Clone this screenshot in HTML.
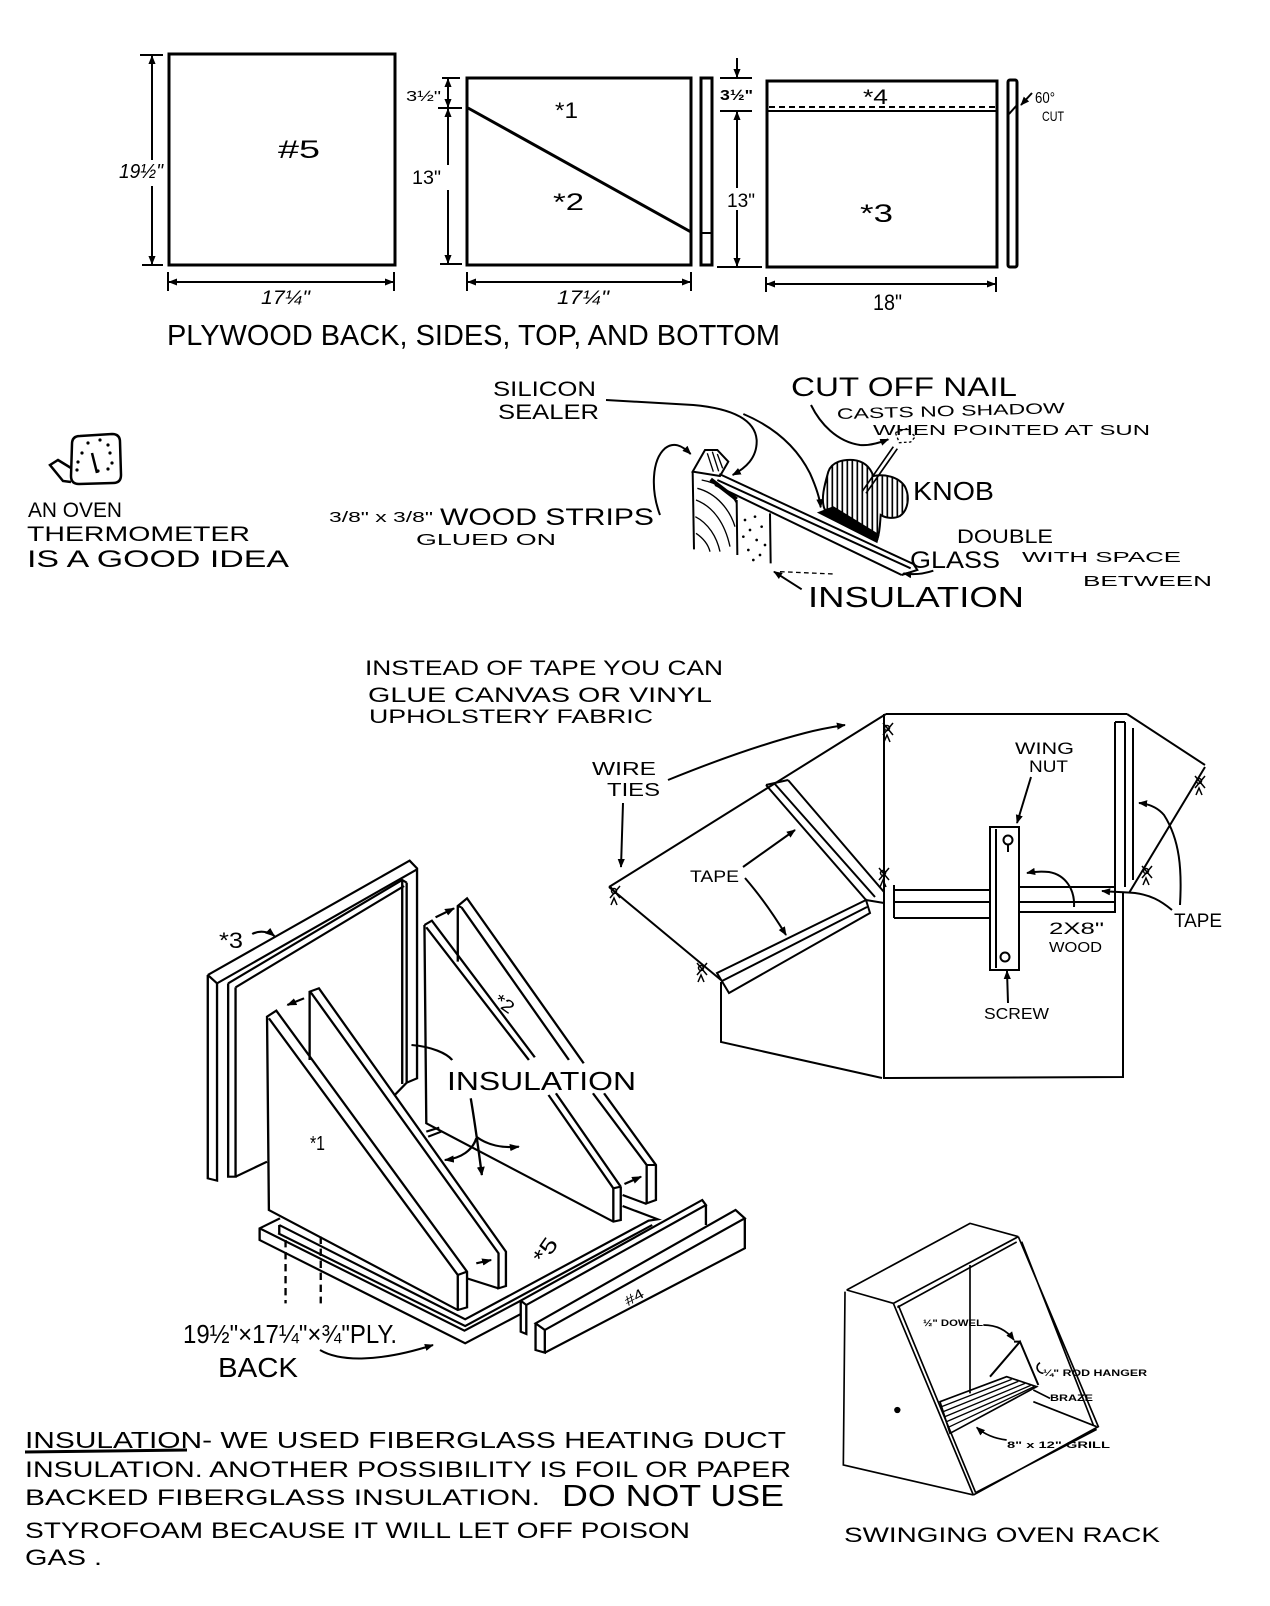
<!DOCTYPE html>
<html><head><meta charset="utf-8"><style>
html,body{margin:0;padding:0;background:#fff;}
svg{display:block}
text{font-family:"Liberation Sans",sans-serif;fill:#000}
</style></head><body>
<svg width="1270" height="1606" viewBox="0 0 1270 1606" xmlns="http://www.w3.org/2000/svg">
<defs>
<marker id="a" viewBox="0 0 10 10" refX="9" refY="5" markerWidth="9" markerHeight="9" markerUnits="userSpaceOnUse" orient="auto-start-reverse"><path d="M0,1L10,5L0,9Z" fill="#000"/></marker>
<marker id="b" viewBox="0 0 10 10" refX="9" refY="5" markerWidth="27" markerHeight="27" markerUnits="userSpaceOnUse" orient="auto-start-reverse"><path d="M0,1L10,5L0,9Z" fill="#000"/></marker>
<pattern id="h" patternUnits="userSpaceOnUse" width="15" height="15"><line x1="7" y1="0" x2="7" y2="15" stroke="#000" stroke-width="5"/></pattern>
<g id="t" fill="none" stroke="#000" stroke-width="1.5"><path d="M-5,-7L5,5M5,-7L-5,5M-4,12L-1,5L2,12"/><circle cx="-1" cy="-2" r="2.5"/></g>
</defs>

<!-- ===== TOP: plywood parts ===== -->
<g fill="none" stroke="#000" stroke-width="3">
<rect x="169" y="54" width="226" height="211"/>
<rect x="467" y="78" width="224" height="187"/>
<line x1="468" y1="108" x2="691" y2="232"/>
<rect x="701" y="78" width="11" height="187"/>
<rect x="767" y="81" width="230" height="186"/>
<rect x="1008" y="80" width="9" height="187" rx="2"/>
</g>
<g fill="none" stroke="#000" stroke-width="2">
<line x1="701" y1="233" x2="712" y2="233"/>
<line x1="767" y1="111" x2="997" y2="111"/>
<line x1="769" y1="107" x2="995" y2="107" stroke-dasharray="6,4"/>
<line x1="1009" y1="114" x2="1017" y2="105"/>
<path d="M140,55H163M142,265H163"/>
<line x1="152" y1="56" x2="152" y2="160" marker-start="url(#a)"/>
<line x1="152" y1="186" x2="152" y2="264" marker-end="url(#a)"/>
<path d="M168,272V291M394,272V291"/>
<line x1="169" y1="282" x2="393" y2="282" marker-start="url(#a)" marker-end="url(#a)"/>
<path d="M442,78H460M438,108H462M440,264H462"/>
<line x1="448" y1="79" x2="448" y2="107" marker-start="url(#a)" marker-end="url(#a)"/>
<line x1="448" y1="109" x2="448" y2="165" marker-start="url(#a)"/>
<line x1="448" y1="190" x2="448" y2="263" marker-end="url(#a)"/>
<path d="M467,272V291M691,272V291"/>
<line x1="468" y1="282" x2="690" y2="282" marker-start="url(#a)" marker-end="url(#a)"/>
<line x1="737" y1="58" x2="737" y2="77" marker-end="url(#a)"/>
<path d="M720,78H752M720,111H752M717,267H762"/>
<line x1="737" y1="112" x2="737" y2="188" marker-start="url(#a)"/>
<line x1="737" y1="210" x2="737" y2="266" marker-end="url(#a)"/>
<path d="M766,277V292M996,277V292"/>
<line x1="767" y1="284" x2="995" y2="284" marker-start="url(#a)" marker-end="url(#a)"/>
<line x1="1032" y1="93" x2="1021" y2="105" marker-end="url(#a)"/>
</g>
<text x="119" y="178" font-size="20" font-style="italic" textLength="44" lengthAdjust="spacingAndGlyphs">19½"</text>
<text x="278" y="158" font-size="25" textLength="42" lengthAdjust="spacingAndGlyphs">#5</text>
<text x="261" y="304" font-size="19" font-style="italic" textLength="49" lengthAdjust="spacingAndGlyphs">17¼"</text>
<text x="406" y="101" font-size="15" textLength="35" lengthAdjust="spacingAndGlyphs">3½"</text>
<text x="412" y="184" font-size="19" textLength="29" lengthAdjust="spacingAndGlyphs">13"</text>
<text x="555" y="118" font-size="22" textLength="23" lengthAdjust="spacingAndGlyphs">*1</text>
<text x="553" y="210" font-size="24" textLength="31" lengthAdjust="spacingAndGlyphs">*2</text>
<text x="557" y="304" font-size="19" font-style="italic" textLength="52" lengthAdjust="spacingAndGlyphs">17¼"</text>
<text x="720" y="100" font-size="15" font-weight="bold" textLength="33" lengthAdjust="spacingAndGlyphs">3½"</text>
<text x="727" y="207" font-size="19" textLength="28" lengthAdjust="spacingAndGlyphs">13"</text>
<text x="863" y="104" font-size="21" textLength="25" lengthAdjust="spacingAndGlyphs">*4</text>
<text x="860" y="222" font-size="25" textLength="33" lengthAdjust="spacingAndGlyphs">*3</text>
<text x="873" y="310" font-size="22" textLength="29" lengthAdjust="spacingAndGlyphs">18"</text>
<text x="1035" y="103" font-size="16" textLength="20" lengthAdjust="spacingAndGlyphs">60°</text>
<text x="1042" y="121" font-size="14" textLength="22" lengthAdjust="spacingAndGlyphs">CUT</text>
<text x="167" y="345" font-size="29" textLength="613" lengthAdjust="spacingAndGlyphs">PLYWOOD BACK, SIDES, TOP, AND BOTTOM</text>

<!-- ===== Thermometer ===== -->
<g fill="none" stroke="#000" stroke-width="2.5">
<path d="M72,444 Q72,436 80,436 L112,434 Q120,434 120,442 L121,475 Q121,483 113,483 L79,484 Q71,484 71,476 Z"/>
<path d="M71,468 L58,460 L50,465 L63,481 L71,482"/>
<line x1="92" y1="453" x2="97" y2="473"/>
</g>
<g fill="#000">
<circle cx="82" cy="453" r="1.6"/><circle cx="88" cy="443" r="1.6"/><circle cx="100" cy="440" r="1.6"/><circle cx="108" cy="445" r="1.6"/><circle cx="110" cy="453" r="1.6"/><circle cx="112" cy="463" r="1.6"/><circle cx="108" cy="469" r="1.6"/><circle cx="78" cy="462" r="1.6"/><circle cx="77" cy="470" r="1.6"/><circle cx="98" cy="471" r="1.6"/>
</g>
<text x="28" y="517" font-size="21" textLength="94" lengthAdjust="spacingAndGlyphs">AN OVEN</text>
<text x="27" y="541" font-size="21" textLength="223" lengthAdjust="spacingAndGlyphs">THERMOMETER</text>
<text x="27" y="567" font-size="24" textLength="262" lengthAdjust="spacingAndGlyphs">IS A GOOD IDEA</text>

<!-- ===== Detail texts ===== -->
<text x="493" y="396" font-size="21" textLength="103" lengthAdjust="spacingAndGlyphs">SILICON</text>
<text x="498" y="419" font-size="21" textLength="101" lengthAdjust="spacingAndGlyphs">SEALER</text>
<text x="329" y="522" font-size="15" textLength="104" lengthAdjust="spacingAndGlyphs">3/8" x 3/8"</text>
<text x="440" y="525" font-size="24" textLength="214" lengthAdjust="spacingAndGlyphs">WOOD STRIPS</text>
<text x="416" y="545" font-size="16" textLength="140" lengthAdjust="spacingAndGlyphs">GLUED ON</text>
<text x="791" y="396" font-size="27" textLength="226" lengthAdjust="spacingAndGlyphs">CUT OFF NAIL</text>
<text x="837" y="419" font-size="15" textLength="228" lengthAdjust="spacingAndGlyphs" transform="rotate(-1.5 837 419)">CASTS NO SHADOW</text>
<text x="873" y="435" font-size="15" textLength="277" lengthAdjust="spacingAndGlyphs">WHEN POINTED AT SUN</text>
<text x="913" y="500" font-size="26" textLength="81" lengthAdjust="spacingAndGlyphs">KNOB</text>
<text x="957" y="543" font-size="19" textLength="96" lengthAdjust="spacingAndGlyphs">DOUBLE</text>
<text x="910" y="568" font-size="24" textLength="90" lengthAdjust="spacingAndGlyphs">GLASS</text>
<text x="1022" y="562" font-size="15" textLength="159" lengthAdjust="spacingAndGlyphs">WITH SPACE</text>
<text x="1083" y="586" font-size="15" textLength="129" lengthAdjust="spacingAndGlyphs">BETWEEN</text>
<text x="808" y="607" font-size="29" textLength="216" lengthAdjust="spacingAndGlyphs">INSULATION</text>

<!-- ===== Detail drawing (zoom coords /3) ===== -->
<g transform="translate(620 400) scale(0.33333)" fill="none" stroke="#000" stroke-width="6">
<path d="M218,215 L222,448"/>
<path d="M218,215 L255,150 L292,150 L325,185 L300,228 Z"/>
<path d="M262,160 L280,215 M277,155 L296,214 M292,162 L308,205" stroke-width="4"/>
<path d="M350,300 L352,465 M450,340 L452,490"/>
<path d="M245,240 C300,250 335,280 350,310 M232,265 C290,280 330,330 345,380 M228,300 C280,320 315,370 330,440 M226,350 C265,370 290,410 300,455 M228,400 C250,415 265,435 270,455" stroke-width="4"/>
<path d="M298,222 L880,492 M292,240 L872,505 M285,255 L845,525 M880,492 L892,510 L845,525"/>
<path d="M272,238 L350,298" stroke-width="12"/>
<path d="M598,338 L640,322 L775,405 L770,425 Z" fill="#000"/>
<path d="M615,330 C600,300 615,250 625,215 C635,185 670,178 700,180 C730,183 750,200 760,228 C790,222 835,228 855,260 C870,290 865,330 840,348 C815,360 790,350 782,345 C780,370 780,395 772,418 L640,325 Z" fill="url(#h)"/>
<path d="M726,275 L820,140 M738,280 L832,146" stroke-width="5"/>
<path d="M826,98 L860,86 L886,110 L872,126 L838,128 Z" stroke-dasharray="8,7" stroke-width="4"/>
<path d="M573,15 C600,70 650,125 720,135 C750,138 780,128 805,118" marker-end="url(#b)"/>
<path d="M-42,0 L220,15 C330,25 405,55 410,120 C412,175 375,205 338,225" marker-end="url(#b)"/>
<path d="M370,42 C460,80 530,140 570,220 C590,265 600,300 602,322" marker-end="url(#b)"/>
<path d="M120,345 C92,270 95,180 135,145 C160,125 185,135 212,162" marker-end="url(#b)"/>
<path d="M940,512 C910,522 880,525 850,520" marker-end="url(#b)"/>
<path d="M545,568 L462,515" marker-end="url(#b)"/>
<path d="M480,515 L640,522" stroke-dasharray="14,10" stroke-width="4"/>
<g fill="#000" stroke="none">
<circle cx="375" cy="360" r="4"/><circle cx="405" cy="350" r="4"/><circle cx="390" cy="390" r="4"/><circle cx="425" cy="380" r="4"/><circle cx="370" cy="410" r="4"/><circle cx="410" cy="420" r="4"/><circle cx="435" cy="435" r="4"/><circle cx="385" cy="450" r="4"/><circle cx="420" cy="465" r="4"/><circle cx="400" cy="480" r="4"/>
</g>
</g>

<!-- ===== Reflector texts ===== -->
<text x="365" y="675" font-size="21" textLength="358" lengthAdjust="spacingAndGlyphs">INSTEAD OF TAPE YOU CAN</text>
<text x="368" y="702" font-size="21" textLength="344" lengthAdjust="spacingAndGlyphs">GLUE CANVAS OR VINYL</text>
<text x="369" y="723" font-size="19" textLength="284" lengthAdjust="spacingAndGlyphs">UPHOLSTERY FABRIC</text>
<text x="592" y="775" font-size="18" textLength="64" lengthAdjust="spacingAndGlyphs">WIRE</text>
<text x="607" y="796" font-size="18" textLength="53" lengthAdjust="spacingAndGlyphs">TIES</text>
<text x="690" y="882" font-size="17" textLength="49" lengthAdjust="spacingAndGlyphs">TAPE</text>
<text x="1015" y="754" font-size="17" textLength="59" lengthAdjust="spacingAndGlyphs">WING</text>
<text x="1029" y="772" font-size="17" textLength="39" lengthAdjust="spacingAndGlyphs">NUT</text>
<text x="1049" y="934" font-size="17" textLength="55" lengthAdjust="spacingAndGlyphs">2X8"</text>
<text x="1049" y="952" font-size="15" textLength="53" lengthAdjust="spacingAndGlyphs">WOOD</text>
<text x="984" y="1019" font-size="16" textLength="65" lengthAdjust="spacingAndGlyphs">SCREW</text>
<text x="1174" y="927" font-size="19" textLength="48" lengthAdjust="spacingAndGlyphs">TAPE</text>

<!-- ===== Reflector drawing ===== -->
<g fill="none" stroke="#000" stroke-width="2">
<path d="M886,714 L1127,714"/>
<path d="M884,714 L884,1078 L1123,1077 L1123,893"/>
<path d="M1115,722 L1115,900 M1125,722 L1125,887 M1133,728 L1133,880 M1115,722 L1125,722"/>
<path d="M721,982 L721,1042 L882,1078"/>
<path d="M609,887 L886,714"/>
<path d="M609,887 L721,980"/>
<path d="M717,973 L866,900 L870,913 L729,993 Z M722,981 L867,907 M866,900 L884,903"/>
<path d="M766,785 L866,900 M788,780 L884,892 M774,783 L875,897 M766,785 L788,780"/>
<path d="M894,885 L894,918 M894,890 L990,890 M894,902 L990,902 M894,918 L990,918"/>
<path d="M1019,887 L1115,887 L1115,912 L1019,912 M1019,902 L1115,902"/>
<rect x="990" y="827" width="29" height="143"/>
<line x1="996" y1="829" x2="996" y2="968"/>
<circle cx="1008" cy="840" r="4.5"/>
<path d="M1008,845 L1008,852"/>
<circle cx="1005" cy="957" r="4.5"/>
<path d="M1127,714 L1205,765 M1205,767 L1129,893"/>
<path d="M668,780 C700,767 751,747 805,733 C820,729 832,727 845,725" marker-end="url(#a)"/>
<path d="M623,803 L621,867" marker-end="url(#a)"/>
<path d="M743,867 L795,830" marker-end="url(#a)"/>
<path d="M745,878 C758,893 772,912 786,935" marker-end="url(#a)"/>
<path d="M1031,777 L1017,823" marker-end="url(#a)"/>
<path d="M1074,907 C1075,890 1066,875 1049,872 C1040,871 1032,872 1027,873" marker-end="url(#a)"/>
<path d="M1008,1003 L1007,971" marker-end="url(#a)"/>
<path d="M1180,905 C1182,870 1180,840 1164,815 C1158,808 1150,804 1139,803" marker-end="url(#a)"/>
<path d="M1172,910 C1160,900 1150,895 1135,893 C1122,892 1112,892 1102,891" marker-end="url(#a)"/>
</g>
<use href="#t" x="888" y="730"/><use href="#t" x="884" y="875"/><use href="#t" x="615" y="893"/><use href="#t" x="702" y="970"/><use href="#t" x="1200" y="783"/><use href="#t" x="1147" y="873"/>

<!-- ===== Exploded view (zoom coords) ===== -->
<g transform="translate(180 830) scale(0.37037 0.33333)" fill="none" stroke="#000" stroke-width="6.3">
<path d="M75,435 L620,92 L640,115 L640,745 L612,758"/>
<path d="M75,435 L100,460 L640,118"/>
<path d="M75,435 L75,1045 L100,1052 L100,460"/>
<path d="M130,460 L130,1040 L150,1040 L150,472"/>
<path d="M130,460 L600,150 L612,158 M150,472 L605,168"/>
<path d="M600,150 L600,762 M612,158 L612,758 M580,795 L612,758 M150,1040 L235,995"/>
<path d="M235,560 L240,1140 L750,1440 L775,1432 L775,1325 L260,542 Z"/>
<path d="M240,565 L750,1335 L775,1325 M750,1335 L750,1440"/>
<path d="M350,690 L350,485 L375,475 L880,1265 L880,1368 L860,1375 L860,1270 L355,490 L350,485"/>
<path d="M775,1345 L860,1375"/>
<path d="M660,285 L665,880 L1170,1175 L1190,1170 L1190,1070 M1170,1075 L1170,1175 M1170,1075 L1190,1070"/>
<path d="M660,285 L680,272 L958,682 M665,292 L942,690 M995,795 L1170,1075 M1015,790 L1190,1070"/>
<path d="M665,905 L700,893 M670,920 L705,905"/>
<path d="M750,395 L750,228 L775,205 L1090,700 M760,232 L1050,690 M750,228 L760,232"/>
<path d="M1115,790 L1260,1005 L1260,1120 L1285,1110 L1285,1005 L1145,790 M1260,1005 L1285,1005 M1195,1095 L1260,1122"/>
<path d="M270,1165 L215,1195 L215,1230 L770,1540 L920,1452"/>
<path d="M215,1195 L768,1502 L920,1412"/>
<path d="M268,1185 L770,1468 L1265,1172 L1290,1168 L1195,1128"/>
<path d="M265,1210 L770,1488 L1275,1185 M268,1185 L268,1210"/>
<path d="M920,1412 L1410,1110 L1420,1125 L935,1425 Z M920,1412 L920,1505 L935,1512 L935,1425 M1420,1125 L1420,1185"/>
<path d="M960,1480 L1500,1140 L1525,1165 L985,1500 Z M960,1480 L960,1560 L985,1568 L985,1500 M1525,1165 L1525,1255 L985,1568"/>
<path d="M285,1230 L285,1420 M380,1220 L380,1420" stroke-dasharray="22,14"/>
<path d="M195,312 C215,300 240,305 255,318" marker-end="url(#b)"/>
<path d="M335,505 L290,525" marker-end="url(#b)"/>
<path d="M690,262 L740,235" marker-end="url(#b)"/>
<path d="M1200,1062 L1245,1040" marker-end="url(#b)"/>
<path d="M800,1300 L840,1290" marker-end="url(#b)"/>
<path d="M625,645 C680,650 720,670 735,690"/>
<path d="M785,805 C795,870 805,950 815,1035" marker-end="url(#b)"/>
<path d="M800,920 C830,945 870,955 915,950" marker-end="url(#b)"/>
<path d="M800,925 C790,960 760,985 715,990" marker-end="url(#b)"/>
</g>
<text x="219" y="948" font-size="22" textLength="24" lengthAdjust="spacingAndGlyphs">*3</text>
<text x="495" y="1010" font-size="18" textLength="20" lengthAdjust="spacingAndGlyphs" transform="rotate(35 505 1003)">*2</text>
<text x="447" y="1090" font-size="26" textLength="189" lengthAdjust="spacingAndGlyphs">INSULATION</text>
<text x="310" y="1150" font-size="20" textLength="15" lengthAdjust="spacingAndGlyphs">*1</text>
<text x="532" y="1258" font-size="22" textLength="26" lengthAdjust="spacingAndGlyphs" transform="rotate(-55 545 1250)">*5</text>
<text x="624" y="1302" font-size="14" textLength="20" lengthAdjust="spacingAndGlyphs" transform="rotate(-30 634 1297)">#4</text>
<text x="183" y="1343" font-size="26" textLength="214" lengthAdjust="spacingAndGlyphs">19½"×17¼"×¾"PLY.</text>
<text x="218" y="1377" font-size="28" textLength="80" lengthAdjust="spacingAndGlyphs">BACK</text>
<path d="M320,1350 C340,1362 380,1362 433,1345" fill="none" stroke="#000" stroke-width="2" marker-end="url(#a)"/>

<!-- ===== Oven rack (zoom coords /3) ===== -->
<g transform="translate(810 1180) scale(0.33333)" fill="none" stroke="#000" stroke-width="5">
<path d="M110,330 L480,130 L625,170"/>
<path d="M110,330 L250,370"/>
<path d="M105,335 L100,855 L490,945"/>
<path d="M250,370 L625,170 M262,382 L620,186"/>
<path d="M250,370 L490,945 M265,376 L497,938"/>
<path d="M625,170 L865,740 L490,945 M635,185 L850,735 M497,938 L860,748"/>
<path d="M480,255 L480,640 M670,665 L860,740"/>
<path d="M390,665 L590,590 L680,620 L420,760 Z"/>
<path d="M395,680 L605,598 M400,695 L625,604 M405,710 L645,610 M410,725 L662,616 M415,742 L672,620" stroke-width="4"/>
<path d="M540,590 L630,485 L685,615 M612,485 L632,485" stroke-width="6"/>
<circle cx="262" cy="690" r="7" fill="#000"/>
<path d="M520,435 C560,435 590,450 612,480" marker-end="url(#b)"/>
<path d="M690,548 C672,560 685,580 700,580"/>
<path d="M670,630 L720,655"/>
<path d="M590,780 C550,775 520,760 500,742" marker-end="url(#b)"/>
</g>
<text x="923" y="1326" font-size="9" font-weight="bold" textLength="60" lengthAdjust="spacingAndGlyphs">½" DOWEL</text>
<text x="1043" y="1376" font-size="9" font-weight="bold" textLength="104" lengthAdjust="spacingAndGlyphs">¼" ROD HANGER</text>
<text x="1050" y="1401" font-size="9" font-weight="bold" textLength="43" lengthAdjust="spacingAndGlyphs">BRAZE</text>
<text x="1007" y="1448" font-size="9" font-weight="bold" textLength="103" lengthAdjust="spacingAndGlyphs">8" x 12" GRILL</text>
<text x="844" y="1542" font-size="21" textLength="316" lengthAdjust="spacingAndGlyphs">SWINGING OVEN RACK</text>

<!-- ===== Bottom paragraph ===== -->
<text x="25" y="1448" font-size="23" textLength="761" lengthAdjust="spacingAndGlyphs">INSULATION- WE USED FIBERGLASS HEATING DUCT</text>
<line x1="25" y1="1452" x2="187" y2="1450" stroke="#000" stroke-width="3"/>
<text x="25" y="1477" font-size="22" textLength="766" lengthAdjust="spacingAndGlyphs">INSULATION. ANOTHER POSSIBILITY IS FOIL OR PAPER</text>
<text x="25" y="1505" font-size="22" textLength="515" lengthAdjust="spacingAndGlyphs">BACKED FIBERGLASS INSULATION.</text>
<text x="562" y="1506" font-size="31" textLength="222" lengthAdjust="spacingAndGlyphs">DO NOT USE</text>
<text x="25" y="1538" font-size="22" textLength="665" lengthAdjust="spacingAndGlyphs">STYROFOAM BECAUSE IT WILL LET OFF POISON</text>
<text x="25" y="1565" font-size="22" textLength="77" lengthAdjust="spacingAndGlyphs">GAS .</text>
</svg>
</body></html>
